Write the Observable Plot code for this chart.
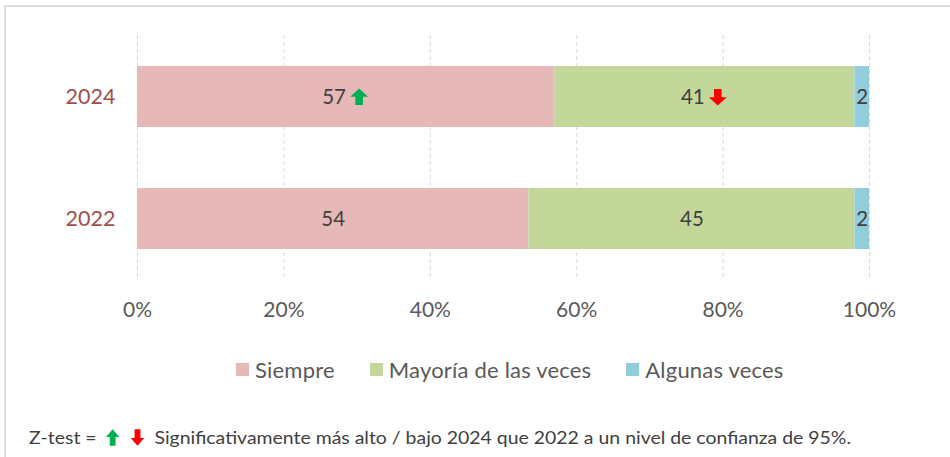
<!DOCTYPE html>
<html>
<head>
<meta charset="utf-8">
<script src="https://cdn.jsdelivr.net/npm/d3@7"></script>
<script src="https://cdn.jsdelivr.net/npm/@observablehq/plot@0.6"></script>
<style>
  html, body { margin: 0; padding: 0; background: #fff; overflow: hidden; width: 950px; height: 457px; }
  body { font-family: Lato, "Open Sans", sans-serif; position: relative; }
  #frame { position: absolute; left: 4px; top: 5px; width: 1000px; height: 500px; border: 2px solid #dcdcdc; box-sizing: border-box; }
  #chart { position: absolute; left: 0; top: 0; }
  #legend { position: absolute; left: 236px; top: 356px; display: flex; align-items: center; gap: 35px; font-size: 22px; letter-spacing: 0.2px; color: #595959; white-space: nowrap; }
  .item { display: flex; align-items: center; gap: 6px; }
  .sw { width: 13px; height: 13px; display: inline-block; }
  #note { position: absolute; left: 29px; top: 426px; font-size: 18px; color: #404040; white-space: nowrap; transform-origin: left center; display: flex; align-items: center; }
  #note svg { display: inline-block; }
</style>
</head>
<body>
<div id="frame"></div>
<div id="chart"></div>
<div id="legend"></div>
<div id="note"></div>
<script>
// ---- data ----
const years = ["2024", "2022"];
const categories = ["Siempre", "Mayoría de las veces", "Algunas veces"];
const siempre = [57, 54];
const mayoria = [41, 45];
const algunas = [2, 2];
const signif2024 = ["up", "down", null];   // z-test markers for 2024
const colors = ["#E6B8B7", "#C4D79B", "#92CDDC"];
const xTicks = [0, 0.2, 0.4, 0.6, 0.8, 1];
const tickLabels = ["0%", "20%", "40%", "60%", "80%", "100%"];
const noteText = "Significativamente más alto / bajo 2024 que 2022 a un nivel de confianza de 95%.";

const series = [siempre, mayoria, algunas];
const rows = [];
years.forEach((yr, i) => {
  categories.forEach((cat, j) => {
    rows.push({year: yr, category: cat, value: series[j][i], sig: yr === "2024" ? signif2024[j] : null});
  });
});

const stackOpts = (extra) => Plot.stackX({offset: "normalize", order: categories}, {x: "value", y: "year", z: "category", ...extra});

const blockArrow = {
  draw(context) {
    const hw = 9, sw = 3.8, top = -8.5, mid = -0.2, bot = 8;
    context.moveTo(0, top);
    context.lineTo(hw, mid);
    context.lineTo(sw, mid);
    context.lineTo(sw, bot);
    context.lineTo(-sw, bot);
    context.lineTo(-sw, mid);
    context.lineTo(-hw, mid);
    context.closePath();
  }
};

const plot = Plot.plot({
  width: 950,
  height: 330,
  marginTop: 35,
  marginBottom: 51,
  marginLeft: 137,
  marginRight: 81,
  style: {fontFamily: "Lato, 'Open Sans', sans-serif", background: "transparent", overflow: "visible"},
  x: {domain: [0, 1]},
  y: {domain: years, paddingInner: 0.5, paddingOuter: 0.25},
  color: {domain: categories, range: colors},
  marks: [
    Plot.gridX(xTicks, {stroke: "#d9d9d9", strokeOpacity: 1, strokeDasharray: "4,3", strokeWidth: 1}),
    Plot.barX(rows, stackOpts({fill: "category"})),
    Plot.text(rows, Plot.filter(d => !d.sig, stackOpts({text: d => String(d.value), fill: "#404040", fontSize: 20.5}))),
    Plot.text(rows, Plot.filter(d => d.sig, stackOpts({text: d => String(d.value), fill: "#404040", fontSize: 20.5, dx: -12}))),
    Plot.vector(rows, Plot.filter(d => d.sig === "up", stackOpts({shape: blockArrow, anchor: "start", length: 1, fill: "#00B050", stroke: "none", dx: 13}))),
    Plot.vector(rows, Plot.filter(d => d.sig === "down", stackOpts({shape: blockArrow, anchor: "start", length: 1, rotate: 180, fill: "#FF0000", stroke: "none", dx: 13}))),
    Plot.axisX({ticks: xTicks, tickFormat: (d) => tickLabels[xTicks.indexOf(d)], tickSize: 0, tickPadding: 23, fontSize: 21, fill: "#595959", label: null}),
    Plot.axisY({tickSize: 0, tickPadding: 22, fontSize: 21.5, fill: "#a14f4c", label: null})
  ]
});
document.getElementById("chart").appendChild(plot);

// legend
const legend = document.getElementById("legend");
categories.forEach((c, i) => {
  const it = document.createElement("span");
  it.className = "item";
  const sw = document.createElement("span");
  sw.className = "sw";
  sw.style.background = colors[i];
  const tx = document.createElement("span");
  tx.textContent = c;
  it.appendChild(sw); it.appendChild(tx);
  legend.appendChild(it);
});

// footnote
function arrowSvg(color, down) {
  const ns = "http://www.w3.org/2000/svg";
  const s = document.createElementNS(ns, "svg");
  s.setAttribute("width", "13"); s.setAttribute("height", "17");
  s.setAttribute("viewBox", "-6.5 -8.5 13 17");
  const p = document.createElementNS(ns, "path");
  p.setAttribute("d", "M0,-8.2L6.2,-0.5L2.7,-0.5L2.7,8.2L-2.7,8.2L-2.7,-0.5L-6.2,-0.5Z");
  p.setAttribute("fill", color);
  if (down) p.setAttribute("transform", "rotate(180)");
  s.appendChild(p);
  return s;
}
const note = document.getElementById("note");
const t1 = document.createElement("span"); t1.textContent = "Z-test =\u00a0"; t1.style.marginRight = "4px";
note.appendChild(t1);
const a1 = arrowSvg("#00B050", false); a1.style.marginRight = "10px"; note.appendChild(a1);
const a2 = arrowSvg("#FF0000", true); a2.style.marginRight = "9px"; note.appendChild(a2);
const t2 = document.createElement("span"); t2.textContent = noteText; note.appendChild(t2);
function fitNote() {
  note.style.transform = "none";
  const w = note.getBoundingClientRect().width;
  note.style.transform = `scaleX(${822 / w})`;
}
fitNote();
if (document.fonts && document.fonts.ready) document.fonts.ready.then(fitNote);
</script>
</body>
</html>
